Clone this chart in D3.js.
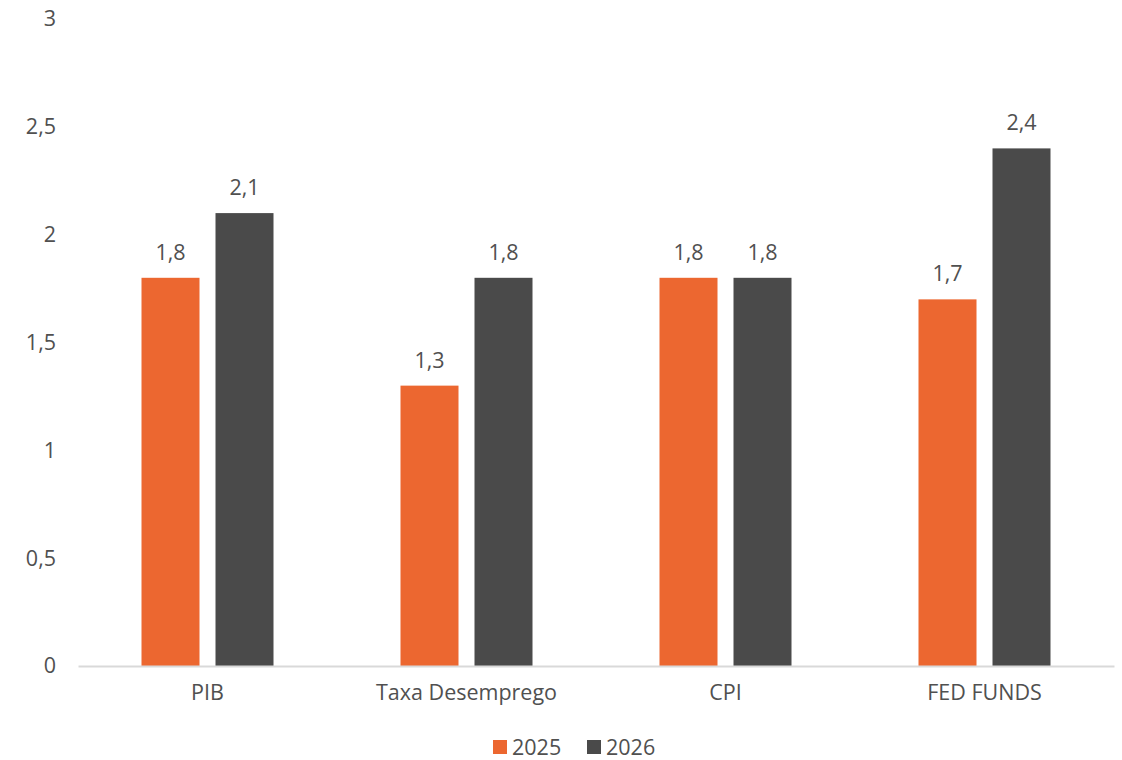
<!DOCTYPE html>
<html>
<head>
<meta charset="utf-8">
<script src="https://cdn.jsdelivr.net/npm/d3@7"></script>
<style>
  html, body { margin: 0; padding: 0; background: #ffffff; }
  svg { display: block; font-family: "Open Sans", Lato, sans-serif; }
</style>
</head>
<body>
<svg id="chart" width="1122" height="760"></svg>
<script>
// Forecast indicators, 2025 vs 2026
const categories = ["PIB", "Taxa Desemprego", "CPI", "FED FUNDS"];
const values2025 = [1.8, 1.3, 1.8, 1.7];
const values2026 = [2.1, 1.8, 1.8, 2.4];
const seriesNames = ["2025", "2026"];
const yTicks = [0, 0.5, 1, 1.5, 2, 2.5, 3];

const colors = { "2025": "#EC6730", "2026": "#4A4A4A" };
const textColor = "#505050";
const fontFamily = "'Open Sans', Lato, sans-serif";
const fontSize = "21.5px";
const fmt = v => String(v).replace(".", ",");

const svg = d3.select("#chart");
const margin = { left: 78, right: 8, top: 19, bottom: 94 };
const width = 1122, height = 760;

const x = d3.scaleBand()
  .domain(categories)
  .range([margin.left, width - margin.right])
  .paddingInner(0).paddingOuter(0);

const y = d3.scaleLinear()
  .domain([0, 3])
  .range([height - margin.bottom, margin.top]);

const barW = 58, gap = 16;
const offsets = { "2025": -(gap / 2 + barW), "2026": gap / 2 };

const rows = categories.map((c, i) => ({ cat: c, "2025": values2025[i], "2026": values2026[i] }));

// y axis labels (no line, no ticks)
const yAxis = d3.axisLeft(y).tickValues(yTicks).tickFormat(fmt).tickSize(0).tickPadding(0);
const gy = svg.append("g").attr("transform", `translate(56,0)`).call(yAxis);
gy.select(".domain").remove();
gy.selectAll("text")
  .attr("fill", textColor)
  .style("font-size", fontSize)
  .style("font-family", fontFamily);

// bars
seriesNames.forEach(s => {
  svg.append("g").selectAll("rect")
    .data(rows)
    .join("rect")
    .attr("x", d => x(d.cat) + x.bandwidth() / 2 + offsets[s])
    .attr("y", d => y(d[s]))
    .attr("width", barW)
    .attr("height", d => y(0) - y(d[s]))
    .attr("fill", colors[s]);

  svg.append("g").selectAll("text")
    .data(rows)
    .join("text")
    .attr("x", d => x(d.cat) + x.bandwidth() / 2 + offsets[s] + barW / 2)
    .attr("y", d => y(d[s]) - 18)
    .attr("text-anchor", "middle")
    .attr("fill", textColor)
    .style("font-size", fontSize)
    .text(d => fmt(d[s]));
});

// x axis
const xAxis = d3.axisBottom(x).tickSize(0).tickPadding(19);
const gx = svg.append("g").attr("transform", `translate(0,${y(0)})`).call(xAxis);
gx.select(".domain").attr("stroke", "#D9D9D9").attr("stroke-width", 2);
gx.selectAll("text")
  .attr("fill", textColor)
  .style("font-size", fontSize)
  .style("font-family", fontFamily);

// legend
const legend = svg.append("g").attr("transform", "translate(493,740)");
const legendX = [0, 94];
seriesNames.forEach((s, i) => {
  const g = legend.append("g").attr("transform", `translate(${legendX[i]},0)`);
  g.append("rect").attr("width", 14).attr("height", 14).attr("fill", colors[s]);
  g.append("text").attr("x", 19).attr("y", 15)
    .attr("fill", textColor).style("font-size", fontSize).text(s);
});
</script>
</body>
</html>
